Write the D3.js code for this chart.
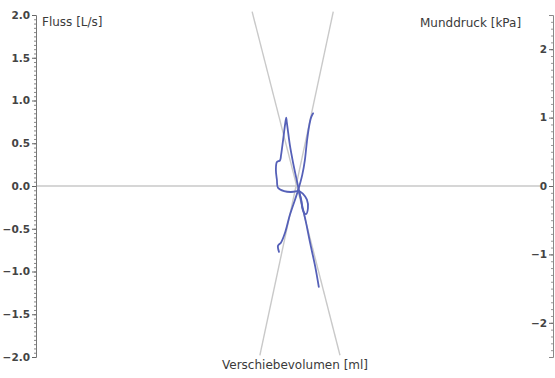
<!DOCTYPE html>
<html>
<head>
<meta charset="utf-8">
<script src="https://cdn.jsdelivr.net/npm/d3@7"></script>
<style>
  html, body { margin: 0; padding: 0; background: #fff; }
  svg { display: block; }
</style>
</head>
<body>
<svg id="chart" width="555" height="378"></svg>
<script>
// Flow axis (left) ticks
const flowTicks = [-2.0, -1.5, -1.0, -0.5, 0.0, 0.5, 1.0, 1.5, 2.0];
// Mouth pressure axis (right) ticks
const pressureTicks = [-2, -1, 0, 1, 2];

// Shift volume [ml] / flow [L/s] loops
const loopAVol  = [-0.30, -0.32, -0.26, -0.18, -0.09, 0.01, 0.07, 0.15, 0.20, 0.24, 0.28, 0.32, 0.36];
const loopAFlow = [-0.77, -0.70, -0.66, -0.54, -0.34, -0.16, -0.05, 0.13, 0.30, 0.52, 0.69, 0.80, 0.85];

const loopBVol  = [0.47, 0.40, 0.30, 0.22, 0.16, 0.11, 0.05, -0.03, -0.09, -0.13, -0.15, -0.16, -0.18,
                   -0.22, -0.26, -0.28, -0.34, -0.36, -0.34, -0.32, -0.20, -0.07, 0.05];
const loopBFlow = [-1.18, -0.94, -0.66, -0.42, -0.26, -0.12, 0.05, 0.28, 0.48, 0.66, 0.75, 0.80, 0.73,
                   0.54, 0.36, 0.30, 0.28, 0.19, 0.07, -0.02, -0.06, -0.07, -0.06];

const loopCVol  = [0.07, 0.16, 0.24, 0.26, 0.22, 0.16, 0.13, 0.09];
const loopCFlow = [-0.05, -0.09, -0.16, -0.26, -0.33, -0.28, -0.16, -0.07];

// Resistance reference lines (endpoints: volume, flow)
const refLineVol  = [[-0.82, 0.88], [0.75, -0.67]];
const refLineFlow = [[2.04, -1.98], [2.04, -1.98]];

const svg = d3.select("#chart");
const font = "'DejaVu Sans', Verdana, sans-serif";

const x = d3.scaleLinear().domain([-5, 5]).range([36, 553]);
const yFlow = d3.scaleLinear().domain([-2, 2]).range([357, 15]);
const yPress = d3.scaleLinear().domain([-2.5, 2.5]).range([357, 15]);

// zero line
svg.append("line")
  .attr("x1", x(-5)).attr("x2", 540)
  .attr("y1", yFlow(0)).attr("y2", yFlow(0))
  .attr("stroke", "#c9c9c9").attr("stroke-width", 1.5);

// reference lines
refLineVol.forEach((vols, i) => {
  svg.append("line")
    .attr("x1", x(vols[0])).attr("y1", yFlow(refLineFlow[i][0]))
    .attr("x2", x(vols[1])).attr("y2", yFlow(refLineFlow[i][1]))
    .attr("stroke", "#c9c9c9").attr("stroke-width", 1.4);
});

// left axis
const leftAxis = svg.append("g").attr("transform", `translate(${x(-5)},0)`);
leftAxis.call(d3.axisLeft(yFlow).tickValues(d3.range(-2, 2.0001, 0.05)).tickSize(2).tickFormat(""))
  .call(g => g.select(".domain").remove())
  .call(g => g.selectAll("line").attr("stroke", "#888"));
leftAxis.append("g")
  .call(d3.axisLeft(yFlow).tickValues(flowTicks).tickSize(4).tickPadding(2).tickFormat(d3.format(".1f")))
  .call(g => g.select(".domain").attr("stroke", "#777"))
  .call(g => g.selectAll("line").attr("stroke", "#666"))
  .call(g => g.selectAll("text")
    .attr("font-family", font).attr("font-size", 10.5).attr("font-weight", "bold").attr("fill", "#444"));

// right axis
const rightAxis = svg.append("g").attr("transform", `translate(553,0)`);
rightAxis.call(d3.axisLeft(yPress).tickValues(d3.range(-2.5, 2.5001, 0.1)).tickSize(2).tickFormat(""))
  .call(g => g.select(".domain").remove())
  .call(g => g.selectAll("line").attr("stroke", "#999"));
rightAxis.append("g")
  .call(d3.axisLeft(yPress).tickValues(pressureTicks).tickSize(4).tickPadding(2).tickFormat(d3.format("d")))
  .call(g => g.select(".domain").attr("stroke", "#888"))
  .call(g => g.selectAll("line").attr("stroke", "#666"))
  .call(g => g.selectAll("text")
    .attr("font-family", font).attr("font-size", 10.5).attr("font-weight", "bold").attr("fill", "#444"));

// loops
const line = d3.line().x(d => x(d[0])).y(d => yFlow(d[1])).curve(d3.curveCatmullRom.alpha(0.5));
[[loopAVol, loopAFlow], [loopBVol, loopBFlow], [loopCVol, loopCFlow]].forEach(([v, f]) => {
  svg.append("path")
    .datum(v.map((d, i) => [d, f[i]]))
    .attr("d", line)
    .attr("fill", "none")
    .attr("stroke", "#5560b8")
    .attr("stroke-width", 1.8)
    .attr("stroke-linejoin", "round")
    .attr("stroke-linecap", "round");
});

// axis titles
svg.append("text").attr("x", 42).attr("y", 26).text("Fluss [L/s]")
  .attr("font-family", font).attr("font-size", 12).attr("fill", "#3a3a3a");
svg.append("text").attr("x", 420).attr("y", 27).text("Munddruck [kPa]")
  .attr("font-family", font).attr("font-size", 12).attr("fill", "#3a3a3a");
svg.append("text").attr("x", 222).attr("y", 369).text("Verschiebevolumen [ml]")
  .attr("font-family", font).attr("font-size", 12).attr("fill", "#3a3a3a");
</script>
</body>
</html>
